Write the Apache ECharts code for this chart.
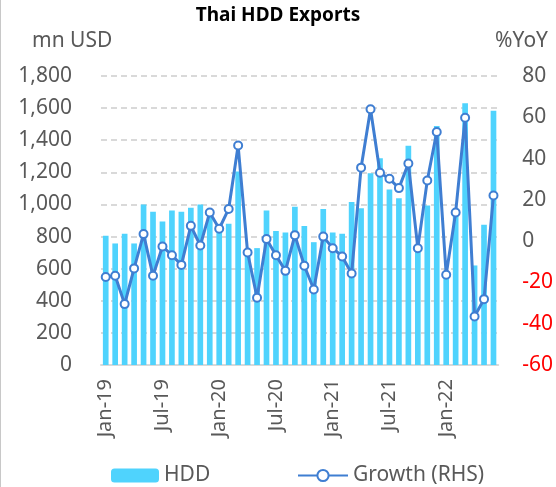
<!DOCTYPE html>
<html>
<head>
<meta charset="utf-8">
<script src="https://cdn.jsdelivr.net/npm/echarts@6/dist/echarts.min.js"></script>
<style>
  html, body { margin: 0; padding: 0; background: #fff; }
  #chart { width: 556px; height: 487px; }
</style>
</head>
<body>
<div id="chart"></div>
<script>
// monthly, Jan-19 .. Jun-22
const months = [
  'Jan-19','Feb-19','Mar-19','Apr-19','May-19','Jun-19','Jul-19','Aug-19','Sep-19','Oct-19','Nov-19','Dec-19',
  'Jan-20','Feb-20','Mar-20','Apr-20','May-20','Jun-20','Jul-20','Aug-20','Sep-20','Oct-20','Nov-20','Dec-20',
  'Jan-21','Feb-21','Mar-21','Apr-21','May-21','Jun-21','Jul-21','Aug-21','Sep-21','Oct-21','Nov-21','Dec-21',
  'Jan-22','Feb-22','Mar-22','Apr-22','May-22','Jun-22'
];
// HDD exports, mn USD
const hdd = [
  805, 757, 817, 757, 999, 954, 894, 962, 954, 979, 999, 950,
  845, 879, 1205, 700, 728, 962, 834, 825, 985, 865, 765, 971,
  825, 817, 1016, 977, 1195, 1288, 1093, 1039, 1365, 730, 993, 1489,
  560, 955, 1630, 620, 873, 1584
];
// growth, %YoY (RHS)
const growth = [
  -17.4, -16.8, -30.5, -13.2, 3.4, -16.8, -2.6, -6.8, -11.5, 7.4, -2.1, 13.9,
  6.0, 15.6, 46.3, -5.5, -27.4, 1.0, -6.8, -14.4, 2.9, -11.9, -23.4, 2.2,
  -3.4, -7.4, -15.7, 35.6, 63.9, 33.1, 30.2, 25.7, 37.6, -3.4, 29.4, 52.9,
  -16.3, 13.9, 59.8, -36.5, -28.1, 22.1
];

const FONT = "'Noto Sans', sans-serif";
const GREY = '#595959';

const chart = echarts.init(document.getElementById('chart'));
chart.setOption({
  backgroundColor: '#fff',
  animation: false,
  textStyle: { fontFamily: FONT },
  title: [
    { text: 'Thai HDD Exports', left: 'center', top: 1,
      textStyle: { fontSize: 19, fontWeight: 'bold', color: '#000', fontFamily: FONT } },
    { text: 'mn USD', left: 27, top: 26,
      textStyle: { fontSize: 21, fontWeight: 'normal', color: GREY, fontFamily: FONT } },
    { text: '%YoY', right: 3, top: 26,
      textStyle: { fontSize: 21, fontWeight: 'normal', color: GREY, fontFamily: FONT } },
  ],
  grid: { left: 101, right: 54, top: 76, bottom: 122 },
  legend: [
    { data: ['HDD'], left: 106, top: 460, itemWidth: 48, itemHeight: 14, itemGap: 6,
      textStyle: { fontSize: 21, color: GREY, fontFamily: FONT } },
    { data: ['Growth (RHS)'], left: 292, top: 460, itemWidth: 50, itemHeight: 14,
      textStyle: { fontSize: 21, color: GREY, fontFamily: FONT } },
  ],
  xAxis: {
    type: 'category',
    data: months,
    axisLine: { lineStyle: { color: '#d9d9d9', width: 2 } },
    axisTick: { show: false },
    axisLabel: { interval: 5, rotate: 90, margin: 14, fontSize: 20, color: GREY, fontFamily: FONT },
  },
  yAxis: [
    {
      type: 'value', min: 0, max: 1800, interval: 200,
      axisLine: { show: false }, axisTick: { show: false },
      axisLabel: { margin: 29, fontSize: 21, color: GREY, fontFamily: FONT,
                   formatter: v => v.toLocaleString('en-US') },
      splitLine: { lineStyle: { color: '#d9d9d9', width: 2, type: [6, 4] } },
    },
    {
      type: 'value', min: -60, max: 80, interval: 20, position: 'right',
      axisLine: { show: false }, axisTick: { show: false },
      axisLabel: { margin: 24, fontSize: 21, fontFamily: FONT,
                   color: v => (v < 0 ? '#ff0000' : GREY) },
      splitLine: { show: false },
    },
  ],
  series: [
    {
      name: 'HDD', type: 'bar', data: hdd,
      barCategoryGap: '40%',
      itemStyle: { color: '#4fd3fd' },
    },
    {
      name: 'Growth (RHS)', type: 'line', yAxisIndex: 1, data: growth,
      symbol: 'circle', symbolSize: 8, showSymbol: true, showAllSymbol: true,
      lineStyle: { color: '#3f7ed2', width: 3 },
      itemStyle: { color: '#fff', borderColor: '#3f7ed2', borderWidth: 2 },
      z: 3,
    },
  ],
  graphic: [
    { type: 'line', shape: { x1: 0.5, y1: 0, x2: 0.5, y2: 487 },
      style: { stroke: '#c8c8c8', lineWidth: 1 } },
  ],
});
</script>
</body>
</html>
